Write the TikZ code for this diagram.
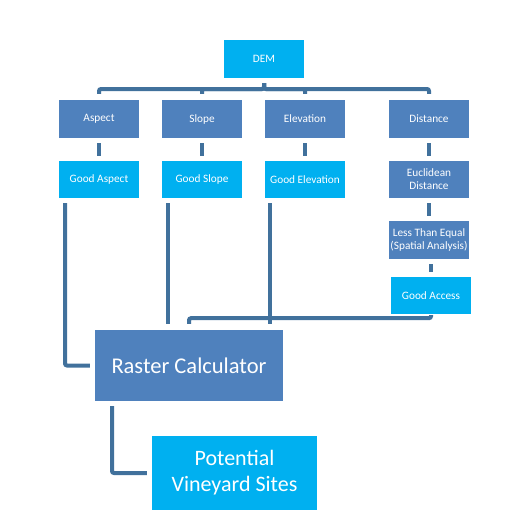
\documentclass[tikz,border=0pt]{standalone}
\usepackage{fontspec}
\setmainfont{Carlito}
\usepackage{tikz}
\usepackage{xcolor}
\usetikzlibrary{positioning,calc}
\definecolor{dataCyan}{RGB}{0,176,240}
\definecolor{toolBlue}{RGB}{79,129,189}
\definecolor{linkBlue}{RGB}{65,113,156}

\begin{document}
\begin{tikzpicture}[x=1pt, y=-1pt,
    cyanbox/.style={rectangle, fill=dataCyan, text=white, inner sep=0pt, align=center, minimum width=80pt, minimum height=37pt, font=\fontsize{11.3}{13}\selectfont},
    bluebox/.style={cyanbox, fill=toolBlue, minimum height=38pt},
    link/.style={draw=linkBlue, line width=4pt, rounded corners=2pt, shorten <=5pt, shorten >=5pt}]
    \useasboundingbox (0,0) rectangle (510,530);
    % top row
    \node[cyanbox, minimum height=38pt] (dem) at (264,59) {DEM};
    \node[bluebox] (aspect) at (99,119) {Aspect};
    \node[bluebox] (slope) at (202,119) {Slope};
    \node[bluebox] (elev) at (305,119) {Elevation};
    \node[bluebox] (dist) at (429,119) {Distance};
    % reclassified layers
    \node[cyanbox] (goodaspect) at (99,179.5) {Good Aspect};
    \node[cyanbox] (goodslope) at (202,179.5) {Good Slope};
    \node[cyanbox] (goodelev) at (305,179.5) {Good Elevation};
    \node[bluebox, minimum height=37pt] (eucl) at (429,179.5) {Euclidean\\Distance};
    \node[bluebox] (lessthan) at (429,240) {Less Than Equal\\(Spatial Analysis)};
    \node[cyanbox] (goodaccess) at (431,295.5) {Good Access};
    % overlay
    \node[bluebox, minimum width=188pt, minimum height=71pt, font=\fontsize{22.5}{26}\selectfont] (raster) at (189,365.5) {Raster Calculator};
    \node[cyanbox, minimum width=165pt, minimum height=74pt, font=\fontsize{22}{26}\selectfont] (sites) at (234.5,473) {Potential\\Vineyard Sites};

    \coordinate (bus) at (264,89);
    \foreach \n in {aspect,slope,elev,dist}
        \draw[link, shorten >=6pt] (dem.south) -- (bus) -| (\n.north);
    \draw[link] (aspect) -- (goodaspect);
    \draw[link] (slope) -- (goodslope);
    \draw[link] (elev) -- (goodelev);
    \draw[link] (dist) -- (eucl);
    \draw[link] (eucl) -- (lessthan);
    \draw[link] (lessthan.south -| goodaccess.south) -- (goodaccess.north);

    \coordinate[xshift=-34pt] (a1) at (goodaspect.south);
    \coordinate[xshift=-34pt] (s1) at (goodslope.south);
    \coordinate[xshift=-35pt] (e1) at (goodelev.south);
    \coordinate[xshift=-77pt] (r1) at (raster.south);
    \draw[link] (a1) |- (raster.west);
    \draw[link, shorten >=6pt] (s1) -- (s1 |- raster.north);
    \draw[link, shorten >=6pt] (e1) -- (e1 |- raster.north);
    \draw[link, shorten <=1pt, shorten >=6pt] (goodaccess.south) -- ++(0,4) -| (raster.north);
    \draw[link] (r1) |- (sites.west);
\end{tikzpicture}
\end{document}
